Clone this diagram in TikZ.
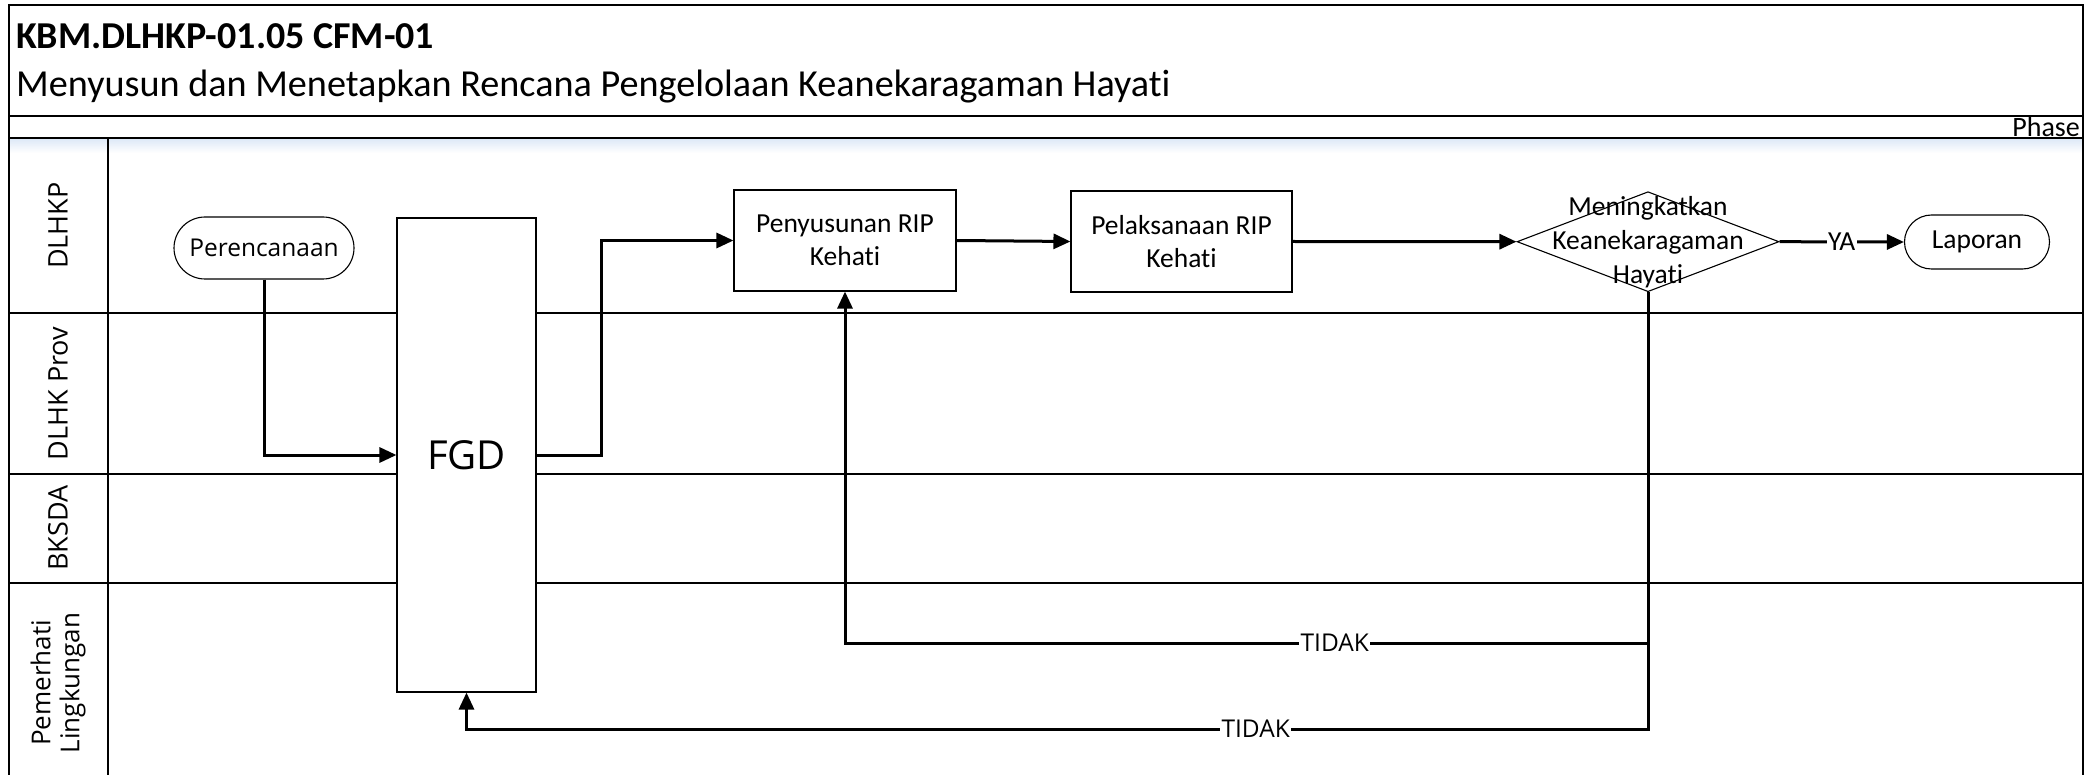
\documentclass[tikz,border=0pt]{standalone}
\usepackage{fontspec}
\setmainfont{Carlito}[Ligatures={NoCommon}]
\newfontfamily\uifont{Open Sans}
\usetikzlibrary{shapes.geometric,arrows.meta}
\definecolor{laneshade}{RGB}{222,233,247}
\begin{document}
\begin{tikzpicture}[x=1pt,y=-1pt,
  frameline/.style={line width=1.6pt},
  laneline/.style={line width=1.5pt},
  lanelabel/.style={rotate=90,inner sep=0pt,align=center,font=\uifont\fontsize{27}{30}\selectfont},
  procbox/.style={draw,line width=1.1pt,fill=white,inner sep=0pt,align=center,
    font=\fontsize{27.5}{33.5}\selectfont},
  terminal/.style={procbox,font=\fontsize{27.5}{33.5}\selectfont},
  flow/.style={line width=3pt,-{Triangle[length=17pt,width=15pt]}},
  flowlabel/.style={fill=white,inner sep=1.5pt,font=\uifont\fontsize{24.5}{27}\selectfont}
]
\useasboundingbox (0,0) rectangle (2086,775);

% header bands and frame
\shade[top color=laneshade,bottom color=white] (10,139) rectangle (2082,153);
\draw[frameline] (9,775) -- (9,5) -- (2083,5) -- (2083,775);
\draw[frameline] (9,116) -- (2083,116);
\draw[frameline] (9,138) -- (2083,138);

\node[anchor=base west,inner sep=0pt,font=\bfseries\fontsize{38}{42}\selectfont] (title) at (16,49) {KBM.DLHKP-01.05 CFM-01};
\node[anchor=base west,inner sep=0pt,font=\fontsize{38.2}{42}\selectfont] (subtitle) at (16,97) {Menyusun dan Menetapkan Rencana Pengelolaan Keanekaragaman Hayati};
\node[anchor=base east,inner sep=0pt,font=\fontsize{28}{32}\selectfont] (phase) at (2080,136.5) {Phase};

% swimlanes
\draw[laneline] (108,138) -- (108,775);
\draw[laneline] (9,313) -- (2083,313);
\draw[laneline] (9,474) -- (2083,474);
\draw[laneline] (9,583) -- (2083,583);

\node[lanelabel] (l1) at (58,225.5) {DLHKP};
\node[lanelabel] (l2) at (58,393.5) {DLHK Prov};
\node[lanelabel] (l3) at (58,528) {BKSDA};
\node[lanelabel,font=\uifont\fontsize{26}{29}\selectfont] (l4) at (58,683) {Pemerhati\\Lingkungan};

% process nodes
\node[terminal,rounded corners=31pt,minimum width=180pt,minimum height=62pt,
  font=\uifont\fontsize{24.5}{28}\selectfont] (per) at (264,248) {Perencanaan};
\node[procbox,minimum width=139pt,minimum height=474pt,
  font=\uifont\fontsize{40}{44}\selectfont] (fgd) at (466.5,455) {FGD};
\node[procbox,minimum width=222pt,minimum height=101pt] (pen) at (845,240.5) {Penyusunan RIP\\Kehati};
\node[procbox,minimum width=221pt,minimum height=101pt] (pel) at (1181.5,241.5) {Pelaksanaan RIP\\Kehati};
\node[draw,diamond,line width=1.1pt,inner sep=0pt,minimum width=262pt,minimum height=100pt,
  label={[align=center,inner sep=0pt,font=\fontsize{27.5}{34}\selectfont]center:Meningkatkan\\Keanekaragaman\\Hayati}]
  (dec) at (1648,241.7) {};
\node[terminal,rounded corners=27pt,minimum width=145pt,minimum height=54pt] (lap) at (1977,242) {Laporan};

% connectors
\draw[flow] (per.south) |- (fgd.west);
\draw[flow] (fgd.east) -- ++(65,0) |- (pen.west);
\draw[flow] (pen.east) -- (pel.west);
\draw[flow] (pel.east) -- (dec.west);
\draw[flow] (dec.east) -- node[fill=white,inner sep=1.5pt,font=\fontsize{27.5}{30}\selectfont]{YA} (lap.west);
\draw[flow] (dec.south) -- (dec.south |- 0,643) -| node[flowlabel,pos=0.195]{TIDAK} (pen.south);
\draw[flow] (dec.south) -- (dec.south |- 0,729) -| node[flowlabel,pos=0.166]{TIDAK} (fgd.south);
\end{tikzpicture}
\end{document}
